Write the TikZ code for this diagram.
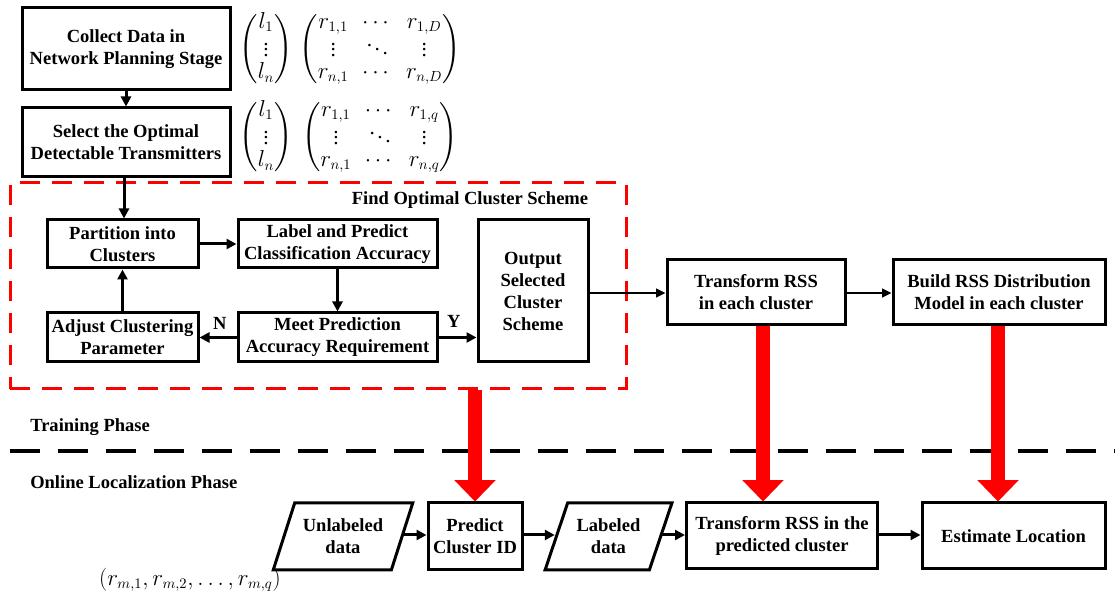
\documentclass[tikz,border=0pt]{standalone}
\usepackage{amsmath}
\usepackage{fontspec}
\setmainfont{Liberation Serif}
\usetikzlibrary{arrows.meta,shapes.geometric,calc}
\newcommand\boxfont{\fontsize{13.9}{16.5}\selectfont\bfseries}
\newcommand\matfont{\fontsize{16}{16.8}\selectfont}
\begin{document}
\begin{tikzpicture}[x=0.75pt,y=-0.75pt,
  box/.style={draw, line width=2.25pt, align=center, font=\boxfont, inner sep=1pt},
  iodata/.style={trapezium, trapezium stretches=true, draw, line width=2.25pt,
    align=center, font=\boxfont, inner sep=1pt,
    trapezium left angle=64, trapezium right angle=116},
  flow/.style={line width=2.25pt, -{Triangle[length=7.5pt,width=7.5pt]}},
  thinflow/.style={line width=1.5pt, -{Triangle[length=7pt,width=6.5pt]}},
  bigarrow/.style={draw=red!75!black, line width=10.5pt, red,
    -{Triangle[length=16pt,width=30pt]}},
  lbl/.style={font=\boxfont, inner sep=0pt}
]
\useasboundingbox (0,0) rectangle (1115,598);

% training pipeline, top left
\node[box, minimum width=156pt, minimum height=61.5pt] (collect) at (126,49)
  {Collect Data in\\Network Planning Stage};
\node[box, minimum width=156pt, minimum height=51.75pt] (select) at (126,142.5)
  {Select the Optimal\\Detectable Transmitters};

% fingerprint matrices
\node[inner sep=0pt, font=\matfont] (lab1) at (266,49)
  {$\begin{pmatrix} l_1\\ \vdots\\ l_n\end{pmatrix}$};
\node[inner sep=0pt, font=\matfont] (rss1) at (380,49)
  {$\begin{pmatrix} r_{1,1} & \cdots & r_{1,D}\\ \vdots & \ddots & \vdots\\ r_{n,1} & \cdots & r_{n,D}\end{pmatrix}$};
\node[inner sep=0pt, font=\matfont] (lab2) at (266,137)
  {$\begin{pmatrix} l_1\\ \vdots\\ l_n\end{pmatrix}$};
\node[inner sep=0pt, font=\matfont] (rss2) at (380,137)
  {$\begin{pmatrix} r_{1,1} & \cdots & r_{1,q}\\ \vdots & \ddots & \vdots\\ r_{n,1} & \cdots & r_{n,q}\end{pmatrix}$};

% cluster search loop
\node[draw=red, line width=2.25pt, dash pattern=on 15pt off 9pt,
  minimum width=462pt, minimum height=154.5pt, inner sep=0pt] (cluster) at (318,286) {};
\node[lbl] (clustertitle) at (470,200) {Find Optimal Cluster Scheme};
\node[box, minimum width=113.25pt, minimum height=36pt] (partition) at (122.5,244)
  {Partition into\\Clusters};
\node[box, minimum width=149.25pt, minimum height=36pt] (labelp) at (337.5,244)
  {Label and Predict\\Classification Accuracy};
\node[box, minimum width=113.25pt, minimum height=36.75pt] (adjust) at (122.5,337.5)
  {Adjust Clustering\\Parameter};
\node[box, minimum width=149.25pt, minimum height=36.75pt] (meet) at (337.5,337.5)
  {Meet Prediction\\Accuracy Requirement};
\node[box, minimum width=82.5pt, minimum height=106.5pt] (output) at (533,291)
  {Output\\Selected\\Cluster\\Scheme};

% per-cluster models
\node[box, minimum width=133.5pt, minimum height=48.75pt] (transform) at (756,292.5)
  {Transform RSS\\in each cluster};
\node[box, minimum width=159pt, minimum height=48.75pt] (build) at (999,292.5)
  {Build RSS Distribution\\Model in each cluster};

% phase separator
\node[lbl, anchor=west] (train) at (30,427) {Training Phase};
\node[lbl, anchor=west] (online) at (30,482) {Online Localization Phase};
\coordinate (sepL) at (10,451);
\coordinate (sepR) at (1115,451);
\draw[line width=3pt, dash pattern=on 22.5pt off 13.5pt] (sepL) -- (sepR);

% online pipeline
\node[iodata, minimum width=105pt, minimum height=50.25pt] (unl) at (343,536.5)
  {Unlabeled\\data};
\node[box, minimum width=70.5pt, minimum height=50.25pt] (pcid) at (475,536.5)
  {Predict\\Cluster ID};
\node[iodata, minimum width=95.25pt, minimum height=50.25pt] (labd) at (608.5,536.5)
  {Labeled\\data};
\node[box, minimum width=143.25pt, minimum height=49.5pt] (tpred) at (782,536)
  {Transform RSS in the\\predicted cluster};
\node[box, minimum width=137.25pt, minimum height=49.5pt] (est) at (1013.5,536)
  {Estimate Location};
\node[inner sep=0pt, font=\matfont] (sample) at (190,580)
  {$(r_{m,1}, r_{m,2}, \ldots, r_{m,q})$};

% connectors
\draw[flow] (collect) -- (select);
\draw[flow] (select.south -| 124,0) -- (partition.north -| 124,0);
\draw[flow] (partition) -- (labelp);
\draw[flow] (labelp) -- (meet);
\draw[flow] (meet) -- node[lbl, above=5pt, pos=0.45] {N} (adjust);
\draw[flow] (adjust) -- (partition);
\draw[flow] (meet.east) -- node[lbl, above=6pt, pos=0.4] {Y} (meet.east -| output.west);
\draw[thinflow] (output.east |- 0,293) -- (transform.west |- 0,293);
\draw[thinflow] (transform.east |- 0,293) -- (build.west |- 0,293);

\draw[flow] (unl.east |- 0,535) -- (pcid.west |- 0,535);
\draw[flow] (pcid.east |- 0,535) -- (labd.west |- 0,535);
\draw[flow] (labd.east |- 0,535) -- (tpred.west |- 0,535);
\draw[flow] (tpred.east |- 0,535) -- (est.west |- 0,535);

% knowledge handed to the online phase
\draw[bigarrow] (pcid.north |- cluster.south) -- (pcid.north);
\draw[bigarrow] (transform.south -| 763,0) -- (tpred.north -| 763,0);
\draw[bigarrow] (build.south -| 998,0) -- (est.north -| 998,0);
\end{tikzpicture}
\end{document}
